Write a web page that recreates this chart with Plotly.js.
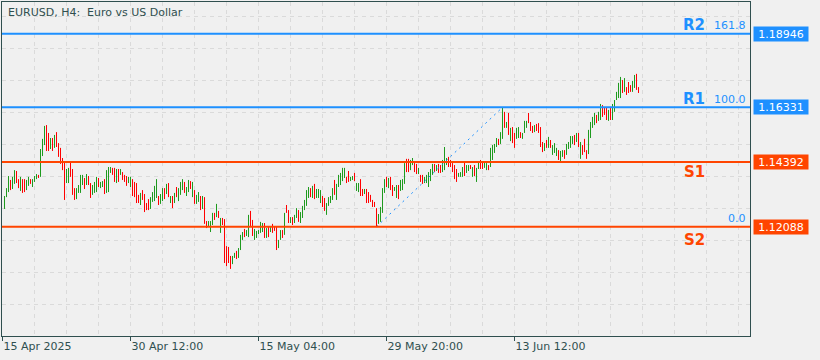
<!DOCTYPE html>
<html>
<head>
<meta charset="utf-8">
<script src="https://cdn.plot.ly/plotly-3.0.1.min.js"></script>
<style>
  html, body { margin: 0; padding: 0; background: #F0F0F0; }
  #chart { width: 820px; height: 360px; }
</style>
</head>
<body>
<div id="chart"></div>
<script>
// ---- data (EURUSD H4 bars, indexed by bar number) ----
const barHigh = [
  1.1318,1.1346,1.1389,1.1375,1.1386,1.1410,1.1407,1.1378,1.1386,1.1378,
  1.1378,1.1375,1.1386,1.1378,1.1378,1.1389,1.1396,1.1393,1.1485,1.1521,
  1.1567,1.1570,1.1542,1.1524,1.1524,1.1535,1.1545,1.1506,1.1489,1.1453,
  1.1439,1.1414,1.1418,1.1439,1.1414,1.1346,1.1346,1.1357,1.1393,1.1393,
  1.1382,1.1396,1.1389,1.1364,1.1357,1.1368,1.1386,1.1382,1.1368,1.1371,
  1.1378,1.1410,1.1421,1.1421,1.1418,1.1418,1.1414,1.1414,1.1414,1.1403,
  1.1393,1.1389,1.1386,1.1386,1.1378,1.1368,1.1364,1.1322,1.1329,1.1339,
  1.1325,1.1293,1.1307,1.1314,1.1332,1.1354,1.1378,1.1318,1.1325,1.1346,
  1.1346,1.1361,1.1364,1.1318,1.1318,1.1329,1.1350,1.1346,1.1368,1.1378,
  1.1368,1.1350,1.1375,1.1371,1.1368,1.1339,1.1322,1.1332,1.1318,1.1318,
  1.1314,1.1229,1.1229,1.1229,1.1258,1.1258,1.1290,1.1265,1.1240,1.1240,
  1.1236,1.1140,1.1137,1.1105,1.1105,1.1116,1.1123,1.1133,1.1180,1.1190,
  1.1201,1.1197,1.1251,1.1265,1.1233,1.1201,1.1194,1.1197,1.1226,1.1222,
  1.1222,1.1204,1.1208,1.1211,1.1219,1.1211,1.1208,1.1162,1.1197,1.1197,
  1.1258,1.1286,1.1268,1.1243,1.1243,1.1251,1.1275,1.1268,1.1261,1.1283,
  1.1304,1.1339,1.1350,1.1346,1.1354,1.1361,1.1343,1.1343,1.1339,1.1318,
  1.1311,1.1293,1.1314,1.1318,1.1346,1.1375,1.1361,1.1393,1.1400,1.1418,
  1.1418,1.1386,1.1407,1.1386,1.1389,1.1400,1.1364,1.1364,1.1378,1.1343,
  1.1343,1.1343,1.1332,1.1322,1.1304,1.1297,1.1275,1.1254,1.1279,1.1346,
  1.1378,1.1386,1.1382,1.1386,1.1357,1.1350,1.1357,1.1357,1.1375,1.1378,
  1.1435,1.1450,1.1450,1.1446,1.1453,1.1435,1.1432,1.1418,1.1393,1.1393,
  1.1386,1.1393,1.1403,1.1414,1.1432,1.1432,1.1428,1.1432,1.1428,1.1446,
  1.1492,1.1453,1.1457,1.1446,1.1435,1.1428,1.1414,1.1400,1.1403,1.1421,
  1.1439,1.1428,1.1428,1.1428,1.1421,1.1428,1.1418,1.1442,1.1446,1.1442,
  1.1442,1.1435,1.1428,1.1489,1.1499,1.1503,1.1524,1.1521,1.1545,1.16331,
  1.1617,1.1581,1.1613,1.1560,1.1563,1.1542,1.1560,1.1563,1.1545,1.1542,
  1.1585,1.1585,1.1613,1.1581,1.1567,1.1570,1.1574,1.1577,1.1563,1.1510,
  1.1506,1.1517,1.1528,1.1517,1.1499,1.1506,1.1489,1.1481,1.1478,1.1481,
  1.1481,1.1503,1.1510,1.1531,1.1531,1.1535,1.1542,1.1542,1.1510,1.1499,
  1.1521,1.1481,1.1553,1.1581,1.1599,1.1613,1.1606,1.1617,1.1645,1.1641,
  1.1634,1.1631,1.1624,1.1631,1.1645,1.1659,1.1688,1.1720,1.1741,1.1730,
  1.1737,1.1705,1.1723,1.1712,1.1727,1.1748,1.1752,1.1705
];
const barLow = [
  1.1272,1.1314,1.1332,1.1339,1.1343,1.1361,1.1364,1.1346,1.1336,1.1329,
  1.1332,1.1339,1.1354,1.1361,1.1350,1.1368,1.1378,1.1382,1.1386,1.1460,
  1.1499,1.1478,1.1478,1.1485,1.1478,1.1489,1.1492,1.1457,1.1432,1.1410,
  1.1304,1.1364,1.1364,1.1386,1.1322,1.1304,1.1307,1.1329,1.1329,1.1357,
  1.1343,1.1357,1.1357,1.1311,1.1322,1.1329,1.1332,1.1350,1.1346,1.1350,
  1.1325,1.1329,1.1332,1.1400,1.1393,1.1368,1.1364,1.1368,1.1393,1.1375,
  1.1368,1.1354,1.1364,1.1350,1.1318,1.1314,1.1293,1.1293,1.1286,1.1304,
  1.1261,1.1268,1.1268,1.1272,1.1297,1.1300,1.1311,1.1286,1.1290,1.1300,
  1.1307,1.1325,1.1314,1.1293,1.1275,1.1293,1.1314,1.1300,1.1322,1.1339,
  1.1329,1.1318,1.1332,1.1343,1.1314,1.1290,1.1290,1.1297,1.1268,1.1272,
  1.1219,1.1204,1.1208,1.1190,1.1215,1.1233,1.1243,1.1240,1.1187,1.1215,
  1.1080,1.1069,1.1080,1.1059,1.1076,1.1098,1.1094,1.1098,1.1126,1.1162,
  1.1172,1.1176,1.1172,1.1208,1.1176,1.1162,1.1169,1.1183,1.1187,1.1190,
  1.1169,1.1169,1.1172,1.1190,1.1187,1.1194,1.1126,1.1133,1.1162,1.1169,
  1.1180,1.1258,1.1222,1.1222,1.1215,1.1222,1.1240,1.1226,1.1222,1.1240,
  1.1268,1.1283,1.1311,1.1314,1.1311,1.1307,1.1311,1.1311,1.1293,1.1279,
  1.1265,1.1251,1.1283,1.1293,1.1304,1.1322,1.1304,1.1350,1.1357,1.1371,
  1.1382,1.1364,1.1368,1.1371,1.1375,1.1371,1.1336,1.1332,1.1318,1.1318,
  1.1325,1.1293,1.1293,1.1297,1.1279,1.1279,1.12088,1.1219,1.1226,1.1258,
  1.1329,1.1350,1.1346,1.1339,1.1318,1.1336,1.1311,1.1307,1.1336,1.1339,
  1.1361,1.1403,1.1403,1.1410,1.1428,1.1403,1.1396,1.1396,1.1368,1.1361,
  1.1364,1.1364,1.1350,1.1371,1.1393,1.1403,1.1407,1.1400,1.1400,1.1403,
  1.1410,1.1428,1.1421,1.1421,1.1403,1.1378,1.1368,1.1386,1.1386,1.1386,
  1.1389,1.1400,1.1407,1.1414,1.1386,1.1389,1.1368,1.1414,1.1414,1.1414,
  1.1418,1.1410,1.1410,1.1421,1.1446,1.1471,1.1492,1.1499,1.1503,1.1521,
  1.1560,1.1560,1.1535,1.1513,1.1506,1.1489,1.1521,1.1524,1.1524,1.1521,
  1.1542,1.1560,1.1577,1.1549,1.1542,1.1545,1.1549,1.1542,1.1492,1.1474,
  1.1478,1.1489,1.1489,1.1489,1.1464,1.1471,1.1460,1.1446,1.1442,1.1457,
  1.1450,1.1464,1.1485,1.1489,1.1503,1.1499,1.1510,1.1492,1.1450,1.1464,
  1.1474,1.1450,1.1467,1.1524,1.1560,1.1570,1.1577,1.1585,1.1588,1.1599,
  1.1606,1.1588,1.1585,1.1588,1.1588,1.1617,1.1659,1.1666,1.1666,1.1684,
  1.1688,1.1677,1.1684,1.1688,1.1688,1.1702,1.1695,1.1684
];
// G = bullish bar, R = bearish bar
const barDirection = (
  "GGGRGGRRGR" + "RGGRGGGRGG" + "GRRGRGRRRR" + "RGGRRRGGGG" + "RGRRGGGRGG" +
  "RGGGRRGRGR" + "RRGGRRRRGR" + "RRRGGGGRGG" + "RGRGRGRGGG" + "RGGRGRGGRG" +
  "RRGGGRGRGR" + "RRRRGGRGGG" + "RGGRRGGGGG" + "RGRGRRRGGR" + "GRRGRGGRGG" +
  "GGGRGRGGGR" + "RGGGGRGGGG" + "GRRGGRGGRR" + "GRRRRRRGGG" + "GRGRRGGRGG" +
  "GRRGGRRGRR" + "GGGGGRGRRG" + "GGRRRRRGGG" + "RGGRGRGGRR" + "GGRGGGGRGG" +
  "RGRGRRGGRG" + "GGRRRGRRRR" + "GRGRGGGRGG" + "RGGGGRGRGR" + "RRGGGGRGGR" +
  "RRGRGGGGGR" + "GRRRGGRR"
).split("");

// time-axis labels (bar index -> label)
const timeTickBars = [-1, 63, 127, 191, 255];
const timeTickLabels = ["15 Apr 2025", "30 Apr 12:00", "15 May 04:00", "29 May 20:00", "13 Jun 12:00"];

// support / resistance levels
const levelNames  = ["R2", "R1", "S1", "S2"];
const levelPrices = [1.18946, 1.16331, 1.14392, 1.12088];

// Fibonacci tool (anchored on the swing low/high bars)
const fibBars   = [186, 249];
const fibPrices = [1.12088, 1.16331];
const fibLevelLabels = ["161.8", "100.0", "0.0"];
const fibLevelPrices = [1.18946, 1.16331, 1.12088];

// ---- build ----
const barIndex = barHigh.map((_, i) => i);
const barOpen  = barHigh.map((h, i) => barDirection[i] === "G" ? barLow[i] : h);
const barClose = barHigh.map((h, i) => barDirection[i] === "G" ? h : barLow[i]);

const BLUE = "#1E90FF", ORANGE = "#FF4500", INK = "#2F4F4F", GRID = "#DADADA";
const FONT = "DejaVu Sans";

const traces = [
  {
    type: "ohlc", x: barIndex, open: barOpen, high: barHigh, low: barLow, close: barClose,
    tickwidth: 0,
    increasing: { line: { color: "#1E9A1E", width: 1 } },
    decreasing: { line: { color: "#FF0000", width: 1 } },
    hoverinfo: "skip"
  },
  {
    type: "scatter", mode: "lines", x: fibBars, y: fibPrices,
    line: { color: BLUE, width: 1, dash: "2px,4px" }, hoverinfo: "skip"
  }
];

const levelColor = n => n[0] === "R" ? BLUE : ORANGE;
const shapes = levelPrices.map((p, i) => ({
  type: "line", xref: "paper", x0: 0, x1: 1, yref: "y", y0: p, y1: p,
  line: { color: levelColor(levelNames[i]), width: 2 }, layer: "above"
}));

const nameShift = { R2: 9, R1: 8, S1: -10, S2: -13 };
const annotations = [];
levelPrices.forEach((p, i) => {
  const c = levelColor(levelNames[i]);
  annotations.push({
    xref: "paper", x: 1, xanchor: "left", xshift: 3, yref: "y", y: p, yanchor: "middle",
    text: p.toFixed(5), showarrow: false, bgcolor: c, width: 54, height: 14, borderpad: 0,
    font: { family: FONT, size: 11, color: "#FFFFFF" }
  });
  annotations.push({
    xref: "paper", x: 1, xanchor: "center", xshift: -56, yref: "y", y: p, yanchor: "middle",
    yshift: nameShift[levelNames[i]],
    text: "<b>" + levelNames[i] + "</b>", showarrow: false,
    font: { family: FONT, size: 15, color: c }
  });
});
fibLevelPrices.forEach((p, i) => {
  annotations.push({
    xref: "paper", x: 1, xanchor: "right", xshift: -2, yref: "y", y: p, yanchor: "middle",
    yshift: 8, text: fibLevelLabels[i], showarrow: false,
    font: { family: FONT, size: 11, color: BLUE }
  });
});
annotations.push({
  xref: "paper", x: 0, xanchor: "left", xshift: 4, yref: "paper", y: 1, yanchor: "middle", yshift: -10,
  text: "EURUSD, H4:\u00a0 Euro vs US Dollar", showarrow: false,
  font: { family: FONT, size: 11, color: INK }
});

const layout = {
  width: 820, height: 360,
  margin: { l: 2, r: 70, t: 2, b: 24 },
  paper_bgcolor: "#F0F0F0", plot_bgcolor: "#F0F0F0",
  showlegend: false,
  font: { family: FONT, size: 11, color: INK },
  xaxis: {
    range: [-1.25, 372.75], rangeslider: { visible: false },
    tickmode: "array", tickvals: timeTickBars, ticktext: timeTickLabels,
    ticklabelposition: "outside right",
    ticks: "outside", ticklen: 4, tickcolor: INK, tickwidth: 1,
    showgrid: true, gridcolor: GRID, griddash: "4px,4px", gridwidth: 1,
    minor: { tick0: -1, dtick: 16, showgrid: true, gridcolor: GRID, griddash: "4px,4px", ticks: "" },
    showline: true, linecolor: INK, linewidth: 1, mirror: true,
    zeroline: false, fixedrange: true,
    tickfont: { family: FONT, size: 11, color: INK }
  },
  yaxis: {
    range: [1.08206, 1.20073],
    tickmode: "linear", tick0: 1.195755, dtick: 0.01137,
    showticklabels: false, ticks: "",
    showgrid: true, gridcolor: GRID, griddash: "4px,4px", gridwidth: 1,
    showline: true, linecolor: INK, linewidth: 1, mirror: true,
    zeroline: false, fixedrange: true
  },
  shapes: shapes,
  annotations: annotations
};

Plotly.newPlot("chart", traces, layout, { displayModeBar: false, staticPlot: true });
</script>
</body>
</html>
